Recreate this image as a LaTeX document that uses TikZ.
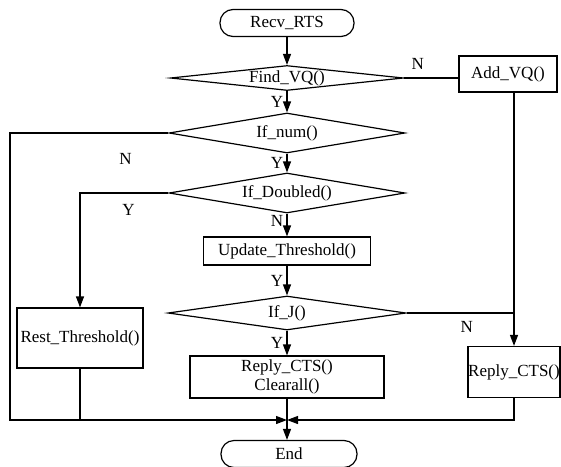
\documentclass[tikz,border=0pt]{standalone}
\usepackage{fontspec}
\setmainfont{Liberation Serif}
\usepackage{tikz}
\usetikzlibrary{shapes.geometric,arrows.meta}

\begin{document}
\begin{tikzpicture}[x=1pt,y=-1pt,line width=1.2pt,
        every node/.style={font=\fontsize{17}{19}\selectfont},
        term/.style={draw,rectangle,rounded corners=13pt,minimum height=27pt,inner sep=0pt},
        proc/.style={draw,rectangle,inner sep=0pt},
        test/.style={draw,diamond,aspect=8.5,inner sep=0pt},
        flow/.style={-{Triangle[length=11pt,width=8pt]}}]
        \useasboundingbox (0,0) rectangle (561,466);
        \node (recv) [term,minimum width=134pt] at (287,23) {Recv\_RTS};
        \node (find) [test,minimum width=233pt,minimum height=25pt] at (287,78) {Find\_VQ()};
        \node (addvq) [proc,minimum width=98pt,minimum height=36pt] at (508,74) {Add\_VQ()};
        \node (ifnum) [test,minimum width=236pt,minimum height=40pt] at (287,133) {If\_num()};
        \node (ifdbl) [test,minimum width=236pt,minimum height=40pt] at (287,193) {If\_Doubled()};
        \node (update) [proc,minimum width=167pt,minimum height=28pt] at (287,251) {Update\_Threshold()};
        \node (ifj) [test,minimum width=238pt,minimum height=34pt] at (287,313) {If\_J()};
        \node (reply) [proc,minimum width=194pt,minimum height=42pt,align=center] at (287,377) {Reply\_CTS()\\Clearall()};
        \node (rest) [proc,minimum width=126pt,minimum height=60pt] at (80,338) {Rest\_Threshold()};
        \node (replyr) [proc,minimum width=92pt,minimum height=51pt] at (514,372) {Reply\_CTS()};
        \node (end) [term,minimum width=136pt] at (289,454) {End};
        \coordinate (cl1) at (10,133);
        \coordinate (cl2) at (10,420);
        \coordinate (mg) at (287,420);
        \draw [flow] (recv) -- (find);
        \draw [flow] (find) -- node (y1) [left] {Y} (ifnum);
        \draw (find.east) -- node (n1) [pos=0.25,above=5pt] {N} (find.east -| addvq.west);
        \draw [flow] (addvq.south -| replyr.north) -- (replyr.north);
        \draw [flow] (ifnum) -- node (y2) [left] {Y} (ifdbl);
        \draw [flow] (ifnum.west) -- node (n2) [pos=0.27,below=16pt] {N} (cl1) -- (cl2) -- (mg);
        \draw [flow] (ifdbl.west) -- node (y3) [pos=0.45,below=7pt] {Y} (rest.north |- ifdbl.west) -- (rest.north);
        \draw [flow] (ifdbl) -- node (n3) [pos=0.3,left] {N} (update);
        \draw [flow] (update) -- node (y4) [left] {Y} (ifj);
        \draw (ifj.east) -- node (n4) [pos=0.56,below=4pt] {N} (ifj.east -| replyr.north);
        \draw [flow] (ifj) -- node (y5) [left] {Y} (reply);
        \draw (rest.south) -- (rest.south |- mg);
        \draw (reply.south) -- (mg);
        \draw [flow] (replyr.south) -- (replyr.south |- mg) -- (mg);
        \draw [flow] (mg) -- (mg |- end.north);
\end{tikzpicture}
\end{document}
